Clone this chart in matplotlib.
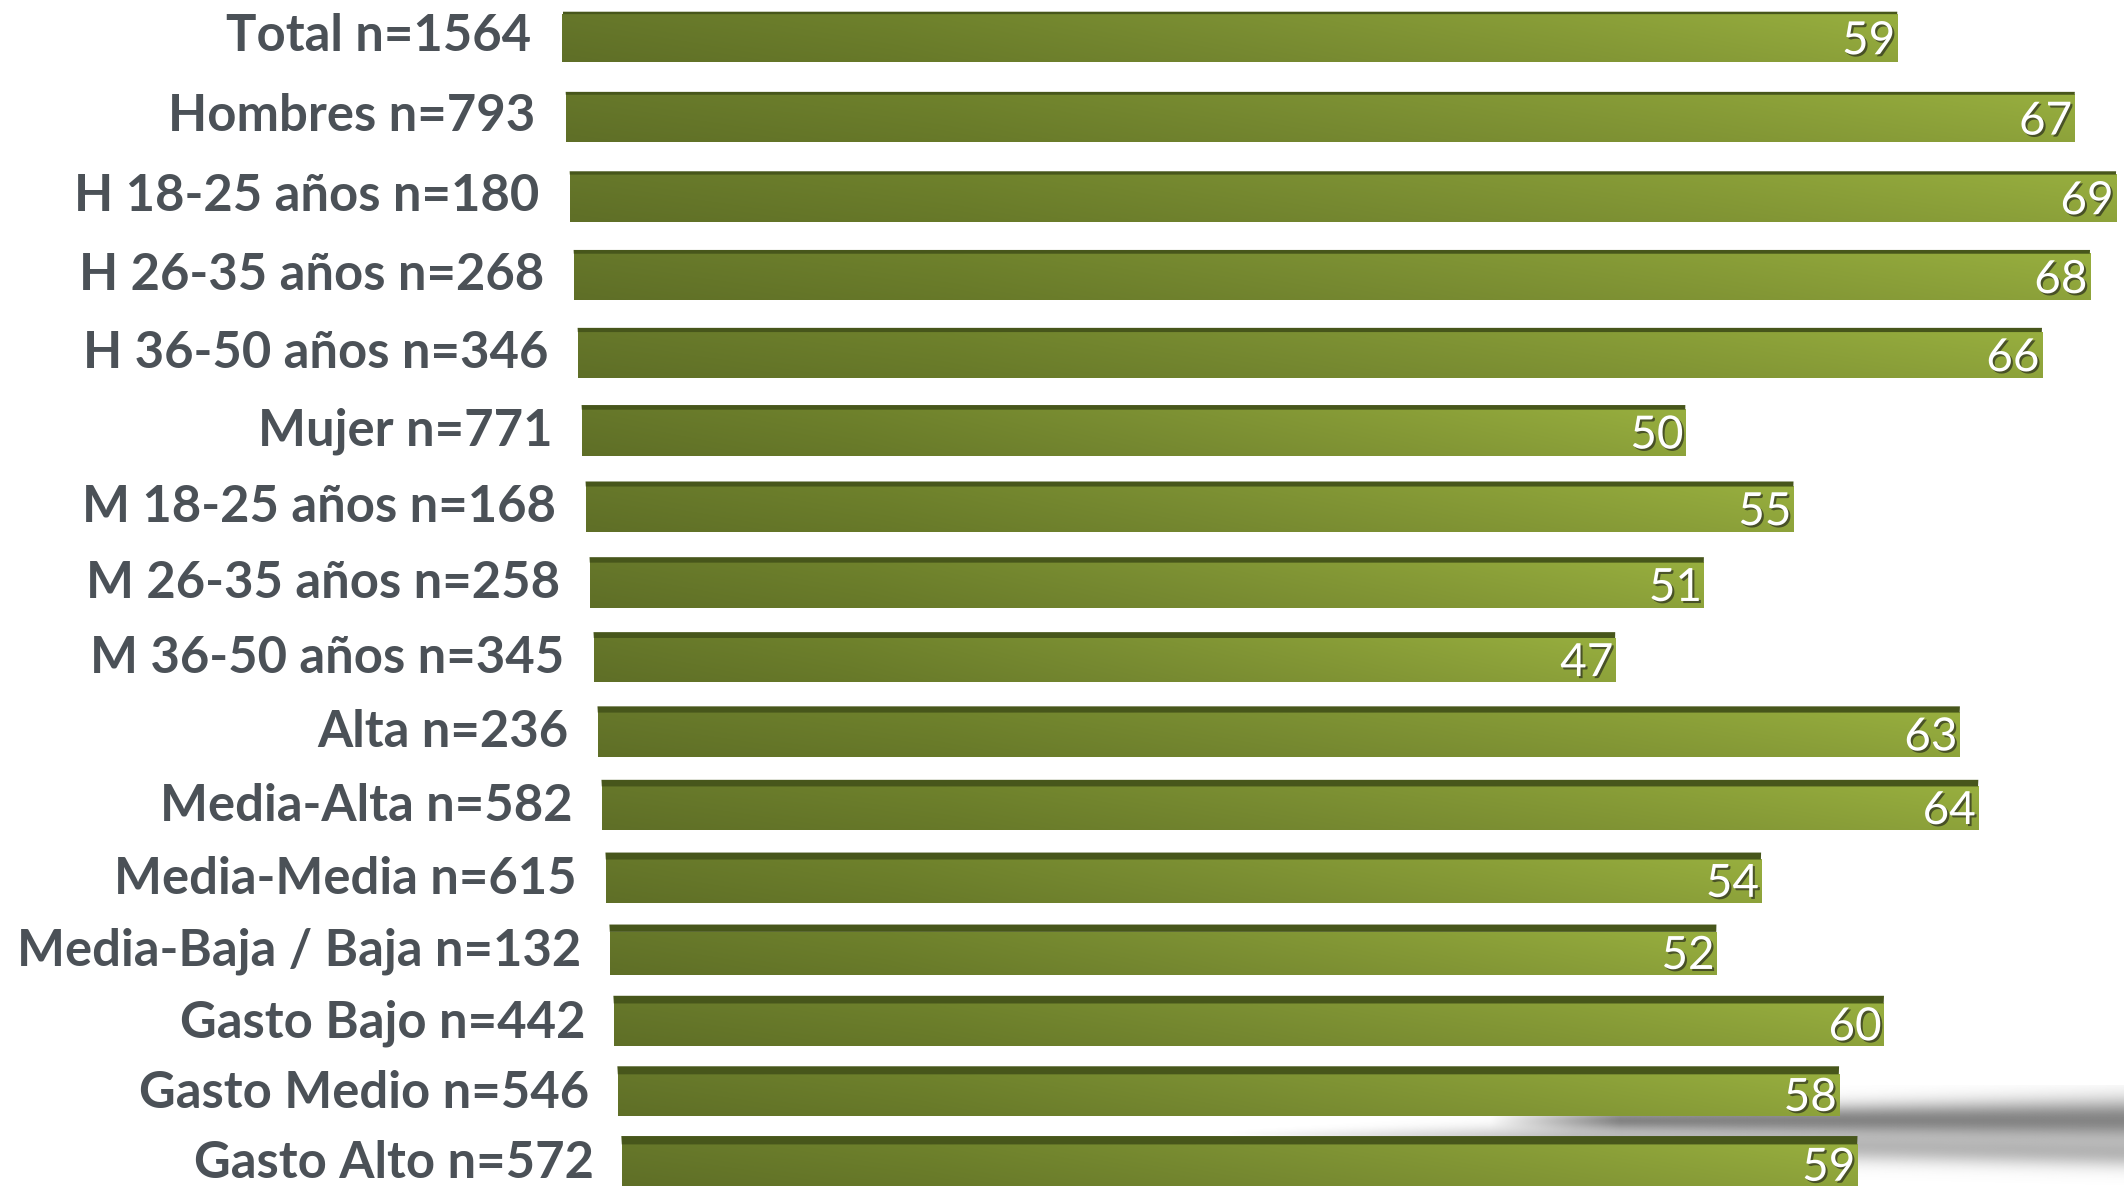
import numpy as np
import matplotlib
matplotlib.use("Agg")
import matplotlib.pyplot as plt
from matplotlib.transforms import Transform
from matplotlib.colors import LinearSegmentedColormap
import matplotlib.patheffects as pe

# ---------------- data ----------------
categories = [
    "Total n=1564", "Hombres n=793", "H 18-25 años n=180", "H 26-35 años n=268",
    "H 36-50 años n=346", "Mujer n=771", "M 18-25 años n=168", "M 26-35 años n=258",
    "M 36-50 años n=345", "Alta n=236", "Media-Alta n=582", "Media-Media n=615",
    "Media-Baja / Baja n=132", "Gasto Bajo n=442", "Gasto Medio n=546", "Gasto Alto n=572",
]
values = [59, 67, 69, 68, 66, 50, 55, 51, 47, 63, 64, 54, 52, 60, 58, 59]

N = len(categories)
W, H = 2124, 1193
DPI = 100

# perspective parameters (style only)
G = 0.177   # rightward shift of bar origin per row (value units)
K = 0.005   # shrink of horizontal scale per row
C = 0.005   # vertical compression of row spacing


class Persp(Transform):
    input_dims = 2
    output_dims = 2
    is_separable = False
    has_inverse = False

    def transform_non_affine(self, values_):
        v = np.asarray(values_, dtype=float)
        x, y = v[:, 0], v[:, 1]
        return np.column_stack([G * y + x * (1 - K * y), y + C * y * (N - 1 - y)])


persp = Persp()

fig = plt.figure(figsize=(W / DPI, H / DPI), dpi=DPI)
x0_px = 563
unit_px = 22.6
row_px = 75.13
top_px = 38
ax = fig.add_axes([x0_px / W, 0, 1 - x0_px / W, 1])
ax.set_xlim(0, (W - x0_px) / unit_px)
ax.set_ylim((H - top_px) / row_px, -top_px / row_px)
ax.axis("off")

tr = persp + ax.transData


def px2x(p):
    return (p - x0_px) / unit_px


def px2y(p):
    return (p - top_px) / row_px


cmap = LinearSegmentedColormap.from_list(
    "olive", ["#66772a", "#6f822c", "#7c9033", "#8a9f38", "#98af3f"])

bar_h = 0.60
ypos = np.arange(N)

# ---- soft floor shadow near the bottom right (decoration) ----
sx0, sx1, sy0, sy1 = 1150, 2124, 1085, 1190
PX, PY = np.meshgrid(np.linspace(sx0, sx1, 500), np.linspace(sy0, sy1, 140))
uA = np.clip((PX - 1490) / 130, 0, 1)
cA = 1120 + 0 * PX
wA = 9 + 12 * np.clip((PX - 1500) / 624, 0, 1)
aA = 0.80 * uA * np.exp(-((PY - cA) / wA) ** 2)
uB = np.clip((PX - 1225) / 350, 0, 1)
cB = 1133 + 20 * np.clip((PX - 1225) / 900, 0, 1)
wB = 2 + 13 * uB
aB = 0.45 * uB * np.exp(-((PY - cB) / wB) ** 2)
alpha = 1 - (1 - aA) * (1 - aB)
shadow = np.zeros(PX.shape + (4,))
shadow[..., :3] = 0.40
shadow[..., 3] = alpha
ax.imshow(shadow, extent=(px2x(sx0), px2x(sx1), px2y(sy1), px2y(sy0)),
          aspect="auto", interpolation="bilinear", zorder=0.5)

bars = ax.barh(ypos, values, height=bar_h, color="none", linewidth=0,
               transform=tr, zorder=2)

for i, (b, v) in enumerate(zip(bars, values)):
    corners = persp.transform(np.array([[0, i - bar_h / 2], [v, i - bar_h / 2],
                                        [v, i + bar_h / 2], [0, i + bar_h / 2]]))
    xa, xb = corners[:, 0].min(), corners[:, 0].max()
    ya, yb = corners[:, 1].min(), corners[:, 1].max()
    GX, GY = np.meshgrid(np.linspace(0, 1, 256), np.linspace(0, 1, 32))
    rgb = cmap(GX)[..., :3]
    shade = 1.0 - 0.07 * GY
    rgb = rgb * shade[..., None]
    im = ax.imshow(rgb, extent=(xa, xb, yb, ya), aspect="auto",
                   interpolation="bilinear", zorder=2)
    im.set_clip_path(b)

    # darker top face (thicker further down, perspective)
    face_h = 0.03 + 0.006 * i
    ax.barh(i - bar_h / 2 - face_h / 2 + 0.005, v, height=face_h, color="#47561b",
            linewidth=0, transform=tr, zorder=2.5)

    # value label
    ax.text(v - 0.05, i + 0.04, f"{v}", transform=tr, ha="right", va="center",
            fontsize=33, color="white", family=["Lato", "DejaVu Sans"], zorder=4,
            path_effects=[pe.withSimplePatchShadow(offset=(1.5, -1.5),
                                                   shadow_rgbFace="#1a1a1a", alpha=0.6)])

    # category label
    ax.text(-1.4, i - 0.02, categories[i], transform=tr, ha="right", va="center",
            fontsize=36.5, color="#4b5157", fontweight="bold",
            family=["Lato", "DejaVu Sans"], zorder=4)

fig.savefig("out.png", dpi=DPI, facecolor="white")
